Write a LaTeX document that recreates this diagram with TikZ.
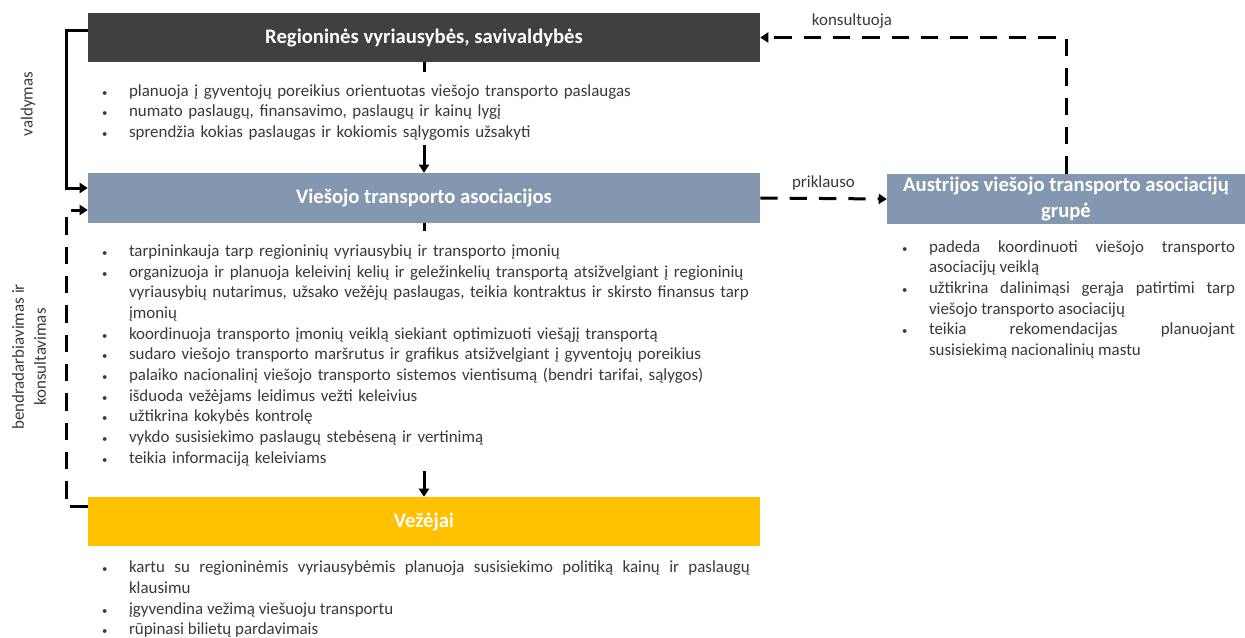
\documentclass[tikz,border=0pt]{standalone}
\usepackage{fontspec}
\setmainfont{Carlito}
\usepackage{enumitem}
\usetikzlibrary{arrows.meta}

\definecolor{regdark}{HTML}{404040}
\definecolor{assocblue}{HTML}{8497B0}
\definecolor{carrieryellow}{HTML}{FFC000}
\definecolor{bodytext}{HTML}{3B3838}

\setlist[itemize]{label={\footnotesize\textbullet}, leftmargin=20.25pt,
  labelwidth=5.25pt, labelsep=15pt, labelindent=0pt, align=left,
  itemsep=0pt, topsep=0pt, parsep=0pt, partopsep=0pt}

\begin{document}
\begin{tikzpicture}[x=0.75pt,y=-0.75pt,
    box/.style={minimum width=504pt, minimum height=36.75pt, inner sep=0pt,
      text=white, font=\fontsize{15.5}{18}\selectfont\bfseries},
    blist/.style={fill=white, inner sep=0pt, text width=486pt, text=bodytext,
      font=\fontsize{12.7}{15.5}\selectfont},
    lbl/.style={text=bodytext, inner sep=1pt, font=\fontsize{12.7}{16.5}\selectfont},
    flow/.style={line width=2.25pt, -{Triangle[width=7.5pt,length=6pt]}},
    dashflow/.style={flow, dash pattern=on 13pt off 9pt}]

  \useasboundingbox (0,0) rectangle (1245,637);

  % the four bodies
  \node[box, fill=regdark] (reg) at (424,37.5) {Regioninės vyriausybės, savivaldybės};
  \node[box, fill=assocblue, minimum height=37.5pt] (vta) at (424,198) {Viešojo transporto asociacijos};
  \node[box, fill=carrieryellow] (vez) at (424,521.5) {Vežėjai};
  \node[box, fill=assocblue, minimum width=268.5pt, minimum height=37.5pt, align=center,
    font=\fontsize{15.5}{19.5}\selectfont\bfseries] (austr) at (1066,199)
    {Austrijos viešojo transporto asociacijų\\grupė};

  % connectors
  \path[flow] (reg) edge (vta);
  \path[flow] (vta) edge (vez);
  \draw[flow] ([yshift=4.9pt]reg.west) -- ++(-21,0) |- ([yshift=7.5pt]vta.west);
  \draw[dashflow] ([yshift=10.9pt]vez.west) -- ++(-21,0) |- ([yshift=-9pt]vta.west);
  \draw[dashflow] (vta.east) -- (austr.west)
    node[midway, above=4pt, lbl, solid] {priklauso};
  \draw[dashflow] (austr.north) |- (reg.east)
    node[pos=0.85, above=5pt, lbl, solid] {konsultuoja};

  \node[lbl, rotate=90] (valdlbl) at (28,104) {valdymas};
  \node[lbl, rotate=90, align=center] (bendlbl) at (29,357) {bendradarbiavimas ir\\konsultavimas};

  % what each one does
  \node[blist, align=left, minimum height=54.75pt] (reglist) at (426,108) {%
    \begin{itemize}
      \item planuoja į gyventojų poreikius orientuotas viešojo transporto paslaugas
      \item numato paslaugų, finansavimo, paslaugų ir kainų lygį
      \item sprendžia kokias paslaugas ir kokiomis sąlygomis užsakyti
    \end{itemize}};
  \node[blist, align=left, minimum height=180pt] (vtalist) at (426,351) {%
    \begin{itemize}
      \item tarpininkauja tarp regioninių vyriausybių ir transporto įmonių
      \item organizuoja ir planuoja keleivinį kelių ir geležinkelių transportą atsižvelgiant į regioninių\newline
        vyriausybių nutarimus, užsako vežėjų paslaugas, teikia kontraktus ir skirsto finansus tarp\newline
        įmonių
      \item koordinuoja transporto įmonių veiklą siekiant optimizuoti viešąjį transportą
      \item sudaro viešojo transporto maršrutus ir grafikus atsižvelgiant į gyventojų poreikius
      \item palaiko nacionalinį viešojo transporto sistemos vientisumą (bendri tarifai, sąlygos)
      \item išduoda vežėjams leidimus vežti keleivius
      \item užtikrina kokybės kontrolę
      \item vykdo susisiekimo paslaugų stebėseną ir vertinimą
      \item teikia informaciją keleiviams
    \end{itemize}};
  \node[blist, align=justify] (vezlist) at (426,595) {%
    \begin{itemize}
      \item kartu su regioninėmis vyriausybėmis planuoja susisiekimo politiką kainų ir paslaugų\linebreak
        klausimu
      \item įgyvendina vežimą viešuoju transportu
      \item rūpinasi bilietų pardavimais
    \end{itemize}};
  \node[blist, align=justify, text width=249.75pt] (austrlist) at (1068.5,295) {%
    \begin{itemize}
      \item padeda koordinuoti viešojo transporto\linebreak asociacijų veiklą
      \item užtikrina dalinimąsi gerąja patirtimi tarp\linebreak viešojo transporto asociacijų
      \item teikia rekomendacijas planuojant\linebreak susisiekimą nacionalinių mastu
    \end{itemize}};

\end{tikzpicture}
\end{document}
